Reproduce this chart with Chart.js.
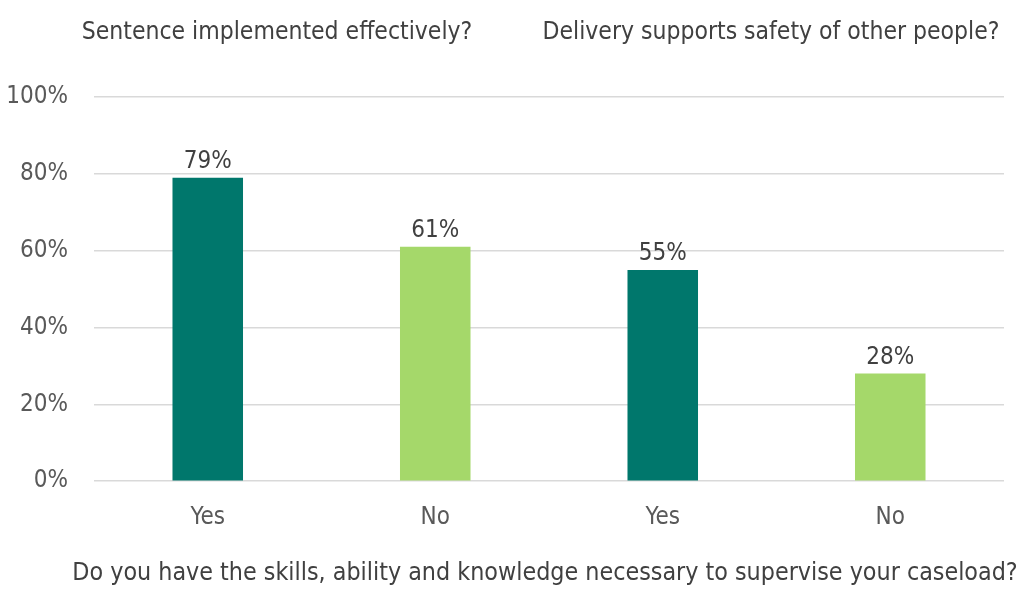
<!DOCTYPE html>
<html lang="en">
<head>
  <meta charset="UTF-8">
  <title>Skills, ability and knowledge</title>
  <script src="https://cdn.jsdelivr.net/npm/chart.js"></script>
  <style>
    body { margin: 0; background: #fff; }
    #wrap { width: 1024px; height: 606px; }
  </style>
</head>
<body>
  <div id="wrap"><canvas id="chart"></canvas></div>
  <script>
    const categories = ['Yes', 'No', 'Yes', 'No'];
    const values = [79, 61, 55, 28];
    const barColors = ['#00776C', '#A5D86A', '#00776C', '#A5D86A'];
    const groupTitles = ['Sentence implemented effectively?', 'Delivery supports safety of other people?'];
    const axisTitle = 'Do you have the skills, ability and knowledge necessary to supervise your caseload?';

    const FONT = "'DejaVu Sans Condensed', 'DejaVu Sans', sans-serif";
    const TEXT = '#595959';
    const SIZE = 24;

    // value labels over the bars
    const valueLabels = {
      id: 'valueLabels',
      afterDatasetsDraw(chart) {
        const ctx = chart.ctx;
        const meta = chart.getDatasetMeta(0);
        ctx.save();
        ctx.font = SIZE + 'px ' + FONT;
        ctx.fillStyle = '#404040';
        ctx.textAlign = 'center';
        ctx.textBaseline = 'bottom';
        meta.data.forEach((bar, i) => {
          ctx.fillText(values[i] + '%', bar.x, bar.y - 4);
        });
        ctx.restore();
      }
    };

    // question titles: two on top, one under the axis
    const headings = {
      id: 'headings',
      afterDraw(chart) {
        const ctx = chart.ctx;
        ctx.save();
        ctx.font = '24.5px ' + FONT;
        ctx.fillStyle = '#404040';
        ctx.textAlign = 'center';
        ctx.textBaseline = 'middle';
        ctx.fillText(groupTitles[0], 277, 33);
        ctx.fillText(groupTitles[1], 771, 33);
        ctx.font = '24.8px ' + FONT;
        ctx.fillText(axisTitle, 545, 574);
        ctx.restore();
      }
    };

    new Chart(document.getElementById('chart'), {
      type: 'bar',
      data: {
        labels: categories,
        datasets: [{
          data: values,
          backgroundColor: barColors,
          categoryPercentage: 1,
          barPercentage: 0.31
        }]
      },
      options: {
        responsive: true,
        maintainAspectRatio: false,
        animation: false,
        layout: { padding: { top: 97, right: 20, left: 4, bottom: 60 } },
        plugins: {
          legend: { display: false },
          tooltip: { enabled: false }
        },
        scales: {
          x: {
            grid: { display: false },
            border: { display: false },
            ticks: { color: TEXT, font: { family: FONT, size: SIZE }, padding: 14 }
          },
          y: {
            min: 0,
            max: 100,
            afterFit: s => { s.width = 90; },
            ticks: {
              stepSize: 20,
              color: TEXT,
              font: { family: FONT, size: SIZE },
              padding: 26,
              callback: v => v + '%'
            },
            grid: { color: '#D9D9D9', lineWidth: 1.5, drawTicks: false },
            border: { display: false }
          }
        }
      },
      plugins: [valueLabels, headings]
    });
  </script>
</body>
</html>
